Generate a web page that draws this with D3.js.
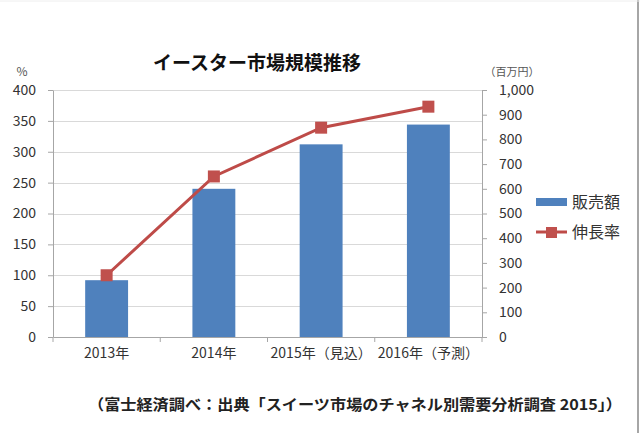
<!DOCTYPE html>
<html><head><meta charset="utf-8">
<script src="https://cdn.jsdelivr.net/npm/d3@7"></script>
<style>html,body{margin:0;padding:0;background:#fff;}svg{display:block;}</style>
</head><body>
<script>
const categories = ["2013年", "2014年", "2015年（見込）", "2016年（予測）"];
const salesValues = [230, 600, 780, 860];      // 販売額 (百万円), right axis
const growthValues = [100, 260, 339, 373];     // 伸長率 (%), left axis
const leftTicks = [0, 50, 100, 150, 200, 250, 300, 350, 400];
const rightTicks = [0, 100, 200, 300, 400, 500, 600, 700, 800, 900, 1000];
const seriesNames = ["販売額", "伸長率"];
const titleText = "イースター市場規模推移";
const footerText = "（富士経済調べ：出典「スイーツ市場のチャネル別需要分析調査 2015」）";

(function () {
const W = 640, H = 433;
const font = "'Noto Sans CJK JP', 'Noto Sans', sans-serif";
const txt = "#333";
const svg = d3.select("body").append("svg").attr("width", W).attr("height", H)
  .style("font-family", font);

const pL = 53, pR = 482, pT = 90, pB = 337;
const x = d3.scaleBand().domain(categories).range([pL, pR]).paddingInner(0.6).paddingOuter(0.3);
const yL = d3.scaleLinear().domain([0, 400]).range([pB, pT]);
const yR = d3.scaleLinear().domain([0, 1000]).range([pB, pT]);

// frame edge
svg.append("line").attr("x1", W - 2).attr("x2", W - 2).attr("y1", 0).attr("y2", H)
  .attr("stroke", "#a6a6a6").attr("stroke-width", 2);
svg.append("line").attr("x1", 0).attr("x2", W).attr("y1", 1).attr("y2", 1)
  .attr("stroke", "#eeeeee").attr("stroke-width", 1);

// gridlines
svg.append("g").selectAll("line").data(leftTicks.filter(d => d > 0)).join("line")
  .attr("x1", pL).attr("x2", pR)
  .attr("y1", d => Math.round(yL(d)) + 0.5).attr("y2", d => Math.round(yL(d)) + 0.5)
  .attr("stroke", "#d9d9d9").attr("stroke-width", 1);

// left axis
const gL = svg.append("g").attr("transform", `translate(${pL},0)`)
  .call(d3.axisLeft(yL).tickValues(leftTicks).tickSize(5).tickPadding(12).tickSizeOuter(0));
// right axis
const gR = svg.append("g").attr("transform", `translate(${pR},0)`)
  .call(d3.axisRight(yR).tickValues(rightTicks).tickSize(5).tickPadding(12).tickSizeOuter(0)
    .tickFormat(d3.format(",")));
// x axis
const gX = svg.append("g").attr("transform", `translate(0,${pB})`)
  .call(d3.axisBottom(x).tickSize(0).tickPadding(11).tickSizeOuter(0));
[gL, gR, gX].forEach(g => {
  g.select(".domain").attr("stroke", "#a6a6a6");
  g.selectAll(".tick line").attr("stroke", "#a6a6a6");
  g.selectAll("text").attr("fill", txt).style("font-size", "14px").style("font-family", font);
});
// category boundary ticks
const bounds = d3.range(categories.length + 1).map(i => pL + i * (pR - pL) / categories.length);
svg.append("g").selectAll("line").data(bounds).join("line")
  .attr("x1", d => d).attr("x2", d => d).attr("y1", pB).attr("y2", pB + 5)
  .attr("stroke", "#a6a6a6");

// bars
svg.append("g").selectAll("rect").data(salesValues).join("rect")
  .attr("x", (d, i) => x(categories[i])).attr("width", x.bandwidth())
  .attr("y", d => yR(d)).attr("height", d => pB - yR(d))
  .attr("fill", "#4f81bd");

// line
const cx = (i) => x(categories[i]) + x.bandwidth() / 2;
svg.append("path").datum(growthValues)
  .attr("d", d3.line().x((d, i) => cx(i)).y(d => yL(d)))
  .attr("fill", "none").attr("stroke", "#be4b48").attr("stroke-width", 3);
svg.append("g").selectAll("rect").data(growthValues).join("rect")
  .attr("x", (d, i) => cx(i) - 6).attr("y", d => yL(d) - 6)
  .attr("width", 12).attr("height", 12).attr("fill", "#c0504d");

// axis units
svg.append("text").attr("x", 22).attr("y", 76).attr("text-anchor", "middle")
  .attr("fill", "#555").style("font-size", "12px").text("%");
svg.append("text").attr("x", 512).attr("y", 76).attr("text-anchor", "middle")
  .attr("fill", "#555").style("font-size", "11px").text("（百万円）");

// title
svg.append("text").attr("x", 257).attr("y", 70).attr("text-anchor", "middle")
  .attr("fill", "#111").style("font-size", "19px").style("font-weight", "bold").text(titleText);

// legend
const lg = svg.append("g");
lg.append("rect").attr("x", 536).attr("y", 198).attr("width", 31).attr("height", 8).attr("fill", "#4f81bd");
lg.append("text").attr("x", 572).attr("y", 208).attr("fill", txt).style("font-size", "16px").text(seriesNames[0]);
lg.append("line").attr("x1", 536).attr("x2", 567).attr("y1", 232).attr("y2", 232)
  .attr("stroke", "#be4b48").attr("stroke-width", 3);
lg.append("rect").attr("x", 546).attr("y", 227).attr("width", 11).attr("height", 11).attr("fill", "#c0504d");
lg.append("text").attr("x", 572).attr("y", 238).attr("fill", txt).style("font-size", "16px").text(seriesNames[1]);

// footer
svg.append("text").attr("x", 88).attr("y", 410).attr("fill", "#222")
  .style("font-size", "15px").style("font-weight", "bold")
  .attr("textLength", 534).attr("lengthAdjust", "spacingAndGlyphs").text(footerText);
})();
</script>
</body></html>
